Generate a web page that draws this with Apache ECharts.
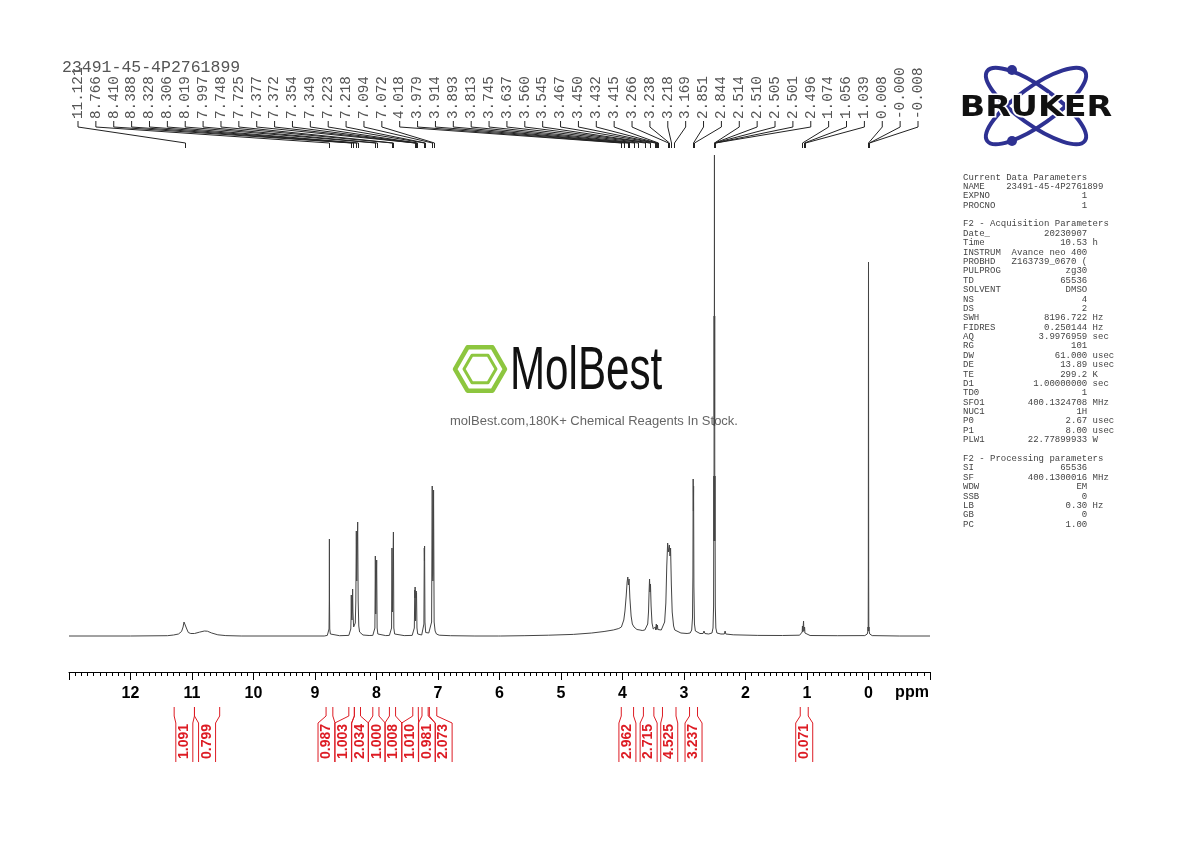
<!DOCTYPE html>
<html><head><meta charset="utf-8">
<script src="https://cdn.jsdelivr.net/npm/echarts@6/dist/echarts.min.js"></script>
<style>html,body{margin:0;padding:0;background:#fff}#c{width:1190px;height:842px}</style>
</head><body><div id="c"></div>
<script>
// ---------------- data ----------------
const sampleName = '23491-45-4P2761899';
const axisRange = [-1, 13];          // ppm
const intensityRange = [-36, 481];   // arbitrary units (baseline = 0)

const peakLabels = ['11.121','8.766','8.410','8.388','8.328','8.306','8.019','7.997','7.748','7.725',
  '7.377','7.372','7.354','7.349','7.223','7.218','7.094','7.072','4.018','3.979','3.914','3.893',
  '3.813','3.745','3.637','3.560','3.545','3.467','3.450','3.432','3.415','3.266','3.238','3.218',
  '3.169','2.851','2.844','2.514','2.510','2.505','2.501','2.496','1.074','1.056','1.039','0.008',
  '-0.000','-0.008'];

const integralRegions = [[11.29,10.96],[10.96,10.55],[8.82,8.71],[8.45,8.36],[8.36,8.26],[8.06,7.96],
  [7.79,7.69],[7.41,7.32],[7.26,7.16],[7.14,7.02],[4.02,3.82],[3.66,3.49],[3.35,3.13],[2.91,2.78],[1.11,0.98]];
const integralValues = ['1.091','0.799','0.987','1.003','2.034','1.000','1.008','1.010','0.981','2.073',
  '2.962','2.715','4.525','3.237','0.071'];

// spectrum trace: [ppm, intensity]
const spectrum = [
 [13.0,0],[12.0,0],[11.40,0.3],[11.30,1],[11.22,2],[11.17,4.5],[11.145,9],[11.13,14],[11.12,16],[11.105,13],[11.085,7],[11.06,3.5],[11.02,2.5],[10.96,2.5],[10.88,3.8],[10.80,5],[10.75,4.8],[10.68,3],[10.58,1.2],[10.45,0.4],[10.2,0],
 [8.85,0],[8.80,0.6],[8.782,2],[8.772,7],[8.768,35],[8.766,97],[8.764,35],[8.760,7],[8.750,2],[8.72,0.6],[8.60,0.3],
 [8.45,0.6],[8.428,2],[8.418,7],[8.413,20],[8.410,41],[8.406,20],[8.399,16],[8.393,26],[8.388,47],[8.383,24],[8.372,9],[8.360,8],[8.345,13],[8.336,35],[8.328,105],[8.321,55],[8.315,55],[8.306,114],[8.298,35],[8.288,10],[8.275,4],[8.255,2],[8.22,1],[8.12,0.5],
 [8.06,0.6],[8.038,2],[8.026,8],[8.019,80],[8.012,22],[8.008,20],[8.003,22],[7.997,76],[7.990,8],[7.978,2],[7.95,0.6],[7.85,0.4],
 [7.79,0.6],[7.768,2],[7.755,8],[7.748,88],[7.741,24],[7.737,22],[7.732,26],[7.725,104],[7.718,8],[7.705,2],[7.68,0.6],[7.55,0.4],
 [7.42,0.6],[7.396,2],[7.385,8],[7.377,46],[7.375,38],[7.372,49],[7.366,15],[7.363,13],[7.359,16],[7.354,45],[7.352,38],[7.349,43],[7.342,8],[7.330,2],[7.30,0.8],
 [7.265,1],[7.240,3],[7.229,12],[7.223,88],[7.220,75],[7.218,90],[7.212,14],[7.200,3.5],[7.175,2],[7.150,3],[7.120,5],[7.104,14],[7.094,150],[7.088,60],[7.083,55],[7.078,62],[7.072,146],[7.063,14],[7.047,5],[7.025,2],[6.98,0.8],[6.80,0.3],[6.40,0],
 [6.02,0],[6.00,1.2],[5.98,0],[5.60,0.3],[5.20,0.8],[4.80,1.6],[4.50,3],[4.30,4.5],[4.15,6],[4.06,7.5],[4.018,9],[4.00,11],[3.979,16],[3.960,25],[3.940,40],[3.925,54],[3.914,59],[3.904,51],[3.893,57],[3.880,38],[3.860,20],[3.840,12],[3.813,9],[3.790,7.5],[3.765,6.5],[3.745,6.5],[3.715,6],[3.680,5.5],
 [3.650,5.5],[3.637,6],[3.610,7.5],[3.590,12],[3.577,24],[3.567,46],[3.560,57],[3.553,44],[3.545,52],[3.535,30],[3.520,13],[3.500,7],[3.480,5.5],[3.467,9],[3.460,6],[3.450,12],[3.443,6.5],[3.432,11],[3.425,6.5],[3.415,8],[3.400,5.5],[3.370,6],[3.340,8],[3.315,14],[3.295,33],[3.280,70],[3.266,93],[3.255,84],[3.245,86],[3.238,91],[3.228,80],[3.218,88],[3.206,52],[3.192,24],[3.169,10],[3.150,6],[3.120,4],[3.050,3],[2.950,2.5],[2.900,3],[2.875,6],[2.862,18],[2.855,60],[2.851,157],[2.847,125],[2.844,150],[2.839,50],[2.830,12],[2.815,5],[2.790,3],[2.740,2.5],[2.690,2.5],[2.675,5],[2.660,2.5],[2.600,2],[2.545,3],[2.528,8],[2.519,30],[2.514,160],[2.512,95],[2.510,320],[2.5075,210],[2.505,481],[2.503,210],[2.501,320],[2.499,95],[2.496,160],[2.491,30],[2.482,8],[2.465,3],[2.400,2],[2.345,2],[2.332,5],[2.320,2],[2.200,1.2],[1.800,0.6],[1.400,0.5],[1.120,0.8],[1.090,2],[1.078,4],[1.074,10],[1.068,4],[1.061,5],[1.056,15],[1.051,5],[1.044,4],[1.039,9],[1.034,3],[1.015,1],[0.950,0.5],[0.500,0.3],[0.060,0.4],[0.020,2],[0.010,5],[0.008,9],[0.005,5],[0.003,60],[0.001,300],[0.000,374],[-0.001,300],[-0.003,60],[-0.005,5],[-0.008,9],[-0.010,5],[-0.020,2],[-0.060,0.4],[-0.5,0],[-1.0,0]
];

const paramsCurrent = [['NAME','23491-45-4P2761899',''],['EXPNO','1',''],['PROCNO','1','']];
const paramsAcq = [['Date_','20230907',''],['Time','10.53','h'],['INSTRUM','Avance neo 400',''],
  ['PROBHD','Z163739_0670 (',''],['PULPROG','zg30',''],['TD','65536',''],['SOLVENT','DMSO',''],
  ['NS','4',''],['DS','2',''],['SWH','8196.722','Hz'],['FIDRES','0.250144','Hz'],['AQ','3.9976959','sec'],
  ['RG','101',''],['DW','61.000','usec'],['DE','13.89','usec'],['TE','299.2','K'],['D1','1.00000000','sec'],
  ['TD0','1',''],['SFO1','400.1324708','MHz'],['NUC1','1H',''],['P0','2.67','usec'],['P1','8.00','usec'],
  ['PLW1','22.77899933','W']];
const paramsProc = [['SI','65536',''],['SF','400.1300016','MHz'],['WDW','EM',''],['SSB','0',''],
  ['LB','0.30','Hz'],['GB','0',''],['PC','1.00','']];

const watermarkTitle = 'MolBest';
const watermarkText = 'molBest.com,180K+ Chemical Reagents In Stock.';
const logoText = 'BRUKER';

// ---------------- helpers ----------------
function fmtParam(p){ return p[0].padEnd(8) + p[1].padStart(15) + (p[2] ? ' ' + p[2] : ''); }
const paramText = ['Current Data Parameters'].concat(paramsCurrent.map(fmtParam), [''],
  ['F2 - Acquisition Parameters'], paramsAcq.map(fmtParam), [''],
  ['F2 - Processing parameters'], paramsProc.map(fmtParam)).join('\n');

// spread integral label centres (in ppm) so they do not overlap
function spreadCenters(regions, gap){
  const mids = regions.map(r => (r[0] + r[1]) / 2);
  const order = mids.map((m, i) => i).sort((a, b) => mids[b] - mids[a]);
  const groups = [];
  const start = g => g.reduce((s, c, k) => s + c - k * gap, 0) / g.length;
  order.forEach(i => {
    groups.push([-mids[i]]);
    while (groups.length > 1) {
      const a = groups[groups.length - 2], b = groups[groups.length - 1];
      if (start(a) + a.length * gap > start(b)) { groups[groups.length - 2] = a.concat(b); groups.pop(); }
      else break;
    }
  });
  const pos = [];
  groups.forEach(g => { const s = start(g); g.forEach((c, k) => pos.push(-(s + k * gap))); });
  const out = new Array(mids.length);
  order.forEach((idx, k) => out[idx] = pos[k]);
  return out;
}
const integralCenters = spreadCenters(integralRegions, 0.272);

const LBL_X0 = 78, LBL_X1 = 918;
const RED = '#dd1c24';

const chart = echarts.init(document.getElementById('c'));

const hex = (cx, cy, r) => [0,1,2,3,4,5].map(k => [cx + r * Math.cos(k * Math.PI / 3), cy + r * Math.sin(k * Math.PI / 3)]);

chart.setOption({
  animation: false,
  backgroundColor: '#fff',
  grid: { left: 69, right: 260, top: 155, bottom: 170, containLabel: false },
  xAxis: {
    type: 'value', min: axisRange[0], max: axisRange[1], interval: 1, inverse: true,
    axisLine: { show: true, onZero: false, lineStyle: { color: '#000', width: 1 } },
    axisTick: { show: true, length: 8, lineStyle: { color: '#000' } },
    minorTick: { show: true, splitNumber: 10, length: 4, lineStyle: { color: '#000' } },
    splitLine: { show: false },
    axisLabel: {
      margin: 14, color: '#000', fontSize: 16, fontWeight: 'bold', fontFamily: 'Liberation Sans, Arial, sans-serif',
      formatter: v => (v >= 0 && v <= 12) ? String(v) : ''
    }
  },
  yAxis: { type: 'value', min: intensityRange[0], max: intensityRange[1], show: false },
  graphic: [
    // sample title (overlapping peak labels)
    { type: 'text', x: 62, y: 68, z: 10, style: { text: sampleName, fontFamily: 'Liberation Mono, monospace', fontSize: 16.5, fill: '#555', verticalAlign: 'middle' } },
    // ppm unit
    { type: 'text', x: 912, y: 693, style: { text: 'ppm', fontFamily: 'Liberation Sans, Arial, sans-serif', fontSize: 16, fontWeight: 'bold', fill: '#000', align: 'center', verticalAlign: 'middle' } },
    // parameters panel
    { type: 'text', x: 963, y: 172.5, style: { text: paramText, fontFamily: 'Liberation Mono, monospace', fontSize: 9, lineHeight: 9.38, fill: '#444', verticalAlign: 'top' } },
    // Bruker logo
    { type: 'ellipse', x: 1036, y: 106, rotation: 0.62, shape: { cx: 0, cy: 0, rx: 60, ry: 19 }, style: { stroke: '#2e3192', lineWidth: 4, fill: null } },
    { type: 'ellipse', x: 1036, y: 106, rotation: -0.62, shape: { cx: 0, cy: 0, rx: 60, ry: 19 }, style: { stroke: '#2e3192', lineWidth: 4, fill: null } },
    { type: 'circle', shape: { cx: 1012, cy: 70, r: 5 }, style: { fill: '#2e3192' } },
    { type: 'circle', shape: { cx: 1012, cy: 141, r: 5 }, style: { fill: '#2e3192' } },
    { type: 'text', x: 1036, y: 108, scaleX: 1.15, z: 5, style: { text: logoText, fontFamily: 'DejaVu Sans, sans-serif', fontWeight: 'bold', fontSize: 29, fill: '#111', align: 'center', verticalAlign: 'middle', stroke: '#fff', lineWidth: 3 } },
    // MolBest watermark
    { type: 'polygon', shape: { points: hex(480, 369, 25) }, style: { stroke: '#8dc63f', lineWidth: 4.5, fill: null, lineJoin: 'round' } },
    { type: 'polygon', shape: { points: hex(480, 369, 16) }, style: { stroke: '#8dc63f', lineWidth: 3, fill: null, lineJoin: 'round' } },
    { type: 'text', x: 510, y: 372, scaleX: 0.68, style: { text: watermarkTitle, fontFamily: 'Liberation Sans, Arial, sans-serif', fontSize: 62, fill: '#111', verticalAlign: 'middle' } },
    { type: 'text', x: 594, y: 421, style: { text: watermarkText, fontFamily: 'Liberation Sans, Arial, sans-serif', fontSize: 13, fill: '#666', align: 'center', verticalAlign: 'middle' } }
  ],
  series: [
    {
      type: 'line', data: spectrum, showSymbol: false, symbol: 'none', clip: false,
      lineStyle: { color: '#444', width: 1 }, z: 3
    },
    {
      type: 'custom', coordinateSystem: 'cartesian2d', clip: false, silent: true,
      data: peakLabels.map(s => [parseFloat(s), 0]),
      renderItem: function (params, api) {
        const i = params.dataIndex;
        const px = Math.round(api.coord([api.value(0), 0])[0]) + 0.5;
        const lx = LBL_X0 + i * (LBL_X1 - LBL_X0) / (peakLabels.length - 1);
        return { type: 'group', children: [
          { type: 'polyline', shape: { points: [[lx, 121], [lx, 127], [px, 143], [px, 148]] }, style: { stroke: '#222', lineWidth: 1, fill: null } },
          { type: 'text', x: lx, y: 119, rotation: Math.PI / 2, style: { text: peakLabels[i], fontFamily: 'Liberation Mono, monospace', fontSize: 14.3, fill: '#555', align: 'left', verticalAlign: 'middle' } }
        ] };
      }
    },
    {
      type: 'custom', coordinateSystem: 'cartesian2d', clip: false, silent: true,
      data: integralRegions.map((r, i) => [r[0], r[1], integralCenters[i]]),
      renderItem: function (params, api) {
        const i = params.dataIndex;
        const a = api.coord([api.value(0), 0])[0], b = api.coord([api.value(1), 0])[0];
        const xl = Math.min(a, b), xr = Math.max(a, b);
        const c = api.coord([api.value(2), 0])[0];
        const hw = 8.5;
        return { type: 'group', children: [
          { type: 'polyline', shape: { points: [[xl, 707], [xl, 716], [c - hw, 723], [c - hw, 762]] }, style: { stroke: RED, lineWidth: 1, fill: null } },
          { type: 'polyline', shape: { points: [[xr, 707], [xr, 716], [c + hw, 723], [c + hw, 762]] }, style: { stroke: RED, lineWidth: 1, fill: null } },
          { type: 'text', x: c, y: 741.5, rotation: Math.PI / 2, style: { text: integralValues[i], fontFamily: 'Liberation Sans, Arial, sans-serif', fontWeight: 'bold', fontSize: 14, fill: RED, align: 'center', verticalAlign: 'middle' } }
        ] };
      }
    }
  ]
});
</script>
</body></html>
